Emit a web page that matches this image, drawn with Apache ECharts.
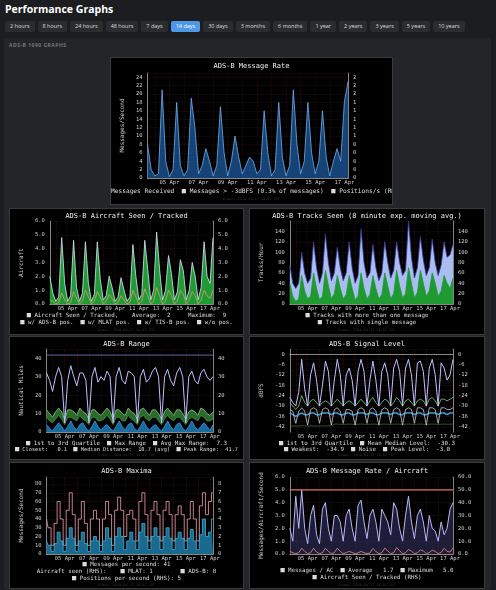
<!DOCTYPE html>
<html><head><meta charset="utf-8">
<script src="https://cdn.jsdelivr.net/npm/echarts@6/dist/echarts.min.js"></script>
<style>
body{margin:0;background:#1b1d20;width:496px;height:590px;overflow:hidden;font-family:"Open Sans",sans-serif;position:relative}
h1{position:absolute;left:5px;top:2px;margin:0;color:#fff;font-size:10.5px;font-weight:700}
#btns{position:absolute;left:5px;top:21px;display:flex;gap:3px}
#btns div{background:#2a2c30;color:#ddd;font-size:5.5px;padding:0 5px;height:11px;line-height:11px;border-radius:2px}
#btns div.on{background:#4f97e8;color:#fff}
#panel{position:absolute;left:4px;top:38px;width:487px;height:552px;background:#232528;border-radius:3px}
#hdr{position:absolute;left:9px;top:42px;color:#777;font-size:5px;font-weight:700;letter-spacing:.5px}
.box{position:absolute;background:#000;border:1px solid #3a3a3a}
</style></head><body>
<h1>Performance Graphs</h1>
<div id="btns"></div>
<div id="panel"></div><div id="hdr">ADS-B 1090 GRAPHS</div>
<div class="box" id="c0" style="left:110px;top:57px;width:281px;height:146px"></div>
<div class="box" id="c1" style="left:9px;top:208px;width:233px;height:125px"></div>
<div class="box" id="c2" style="left:249px;top:208px;width:234px;height:125px"></div>
<div class="box" id="c3" style="left:9px;top:336px;width:233px;height:122px"></div>
<div class="box" id="c4" style="left:249px;top:336px;width:234px;height:122px"></div>
<div class="box" id="c5" style="left:9px;top:462px;width:233px;height:125px"></div>
<div class="box" id="c6" style="left:249px;top:462px;width:234px;height:125px"></div>
<script>
const buttons=["2 hours","8 hours","24 hours","48 hours","7 days","14 days","30 days","3 months","6 months","1 year","2 years","3 years","5 years","10 years"];
// 6-hourly samples starting 03 Apr 12:00; label every 2 days from 05 Apr 00:00 (sample index 6)
const dateLabels=["05 Apr","07 Apr","09 Apr","11 Apr","13 Apr","15 Apr","17 Apr"];
const FIRST_LABEL=6, LABEL_EVERY=8, N=56;
// ADS-B message rate
const msgRate=[8,2,0.5,1, 21,4,0.3,2, 18,3,0.5,2, 19,12,1,3, 7,4,0.5,3, 17,6,0.5,4, 10,5,1,3, 5,4,1,2, 16,6,0.5,2, 18,5,0.5,3, 21,8,1,4, 18,6,1,4, 16,5,0.5,4, 7,4,18,23];
// Aircraft seen / tracked
const acSeen=[2,0.8,0.2,0.5, 4.8,1.5,0.2,0.6, 4.6,1.2,0.2,0.8, 4.5,1.5,0.2,0.7, 4.5,1.8,0.3,0.6, 2.0,1.2,0.2,0.5, 1.9,1.0,0.2,0.5, 4.3,2.0,0.3,0.7, 4.6,2.5,0.3,1.0, 5.2,2.5,0.3,1.0, 3.5,2.2,0.3,0.9, 3.2,2.4,0.3,1.0, 3.0,2.0,0.3,1.2, 4.5,2.0,1.5,4.8];
const acTisb=[0.3,0.2,0,0.1, 0.8,0.3,0,0.1, 0.9,0.4,0,0.2, 1.0,0.5,0,0.2, 0.9,0.5,0,0.2, 0.7,0.4,0,0.1, 0.6,0.3,0,0.1, 1.0,0.5,0,0.2, 1.1,0.6,0,0.2, 1.2,0.6,0,0.2, 1.0,0.6,0,0.2, 1.0,0.7,0,0.3, 0.9,0.6,0,0.3, 1.0,0.6,0.4,1.0];
// Tracks seen
const tracksAll=[75,40,30,40, 100,60,40,50, 120,70,40,60, 135,80,45,60, 110,70,45,60, 120,70,40,55, 145,80,50,60, 115,70,45,60, 120,80,50,65, 120,80,55,65, 160,90,50,70, 130,85,55,70, 125,80,55,75, 120,90,95,115];
const tracksMulti=[40,15,5,10, 55,25,10,15, 60,30,8,15, 65,35,10,20, 55,30,10,18, 55,30,8,15, 60,30,10,18, 55,30,10,18, 60,35,10,20, 65,35,12,20, 70,40,12,22, 65,40,15,25, 60,40,15,25, 55,40,30,50];
// Range
const rangeMax=[32,28,22,30, 35,30,5,28, 36,30,25,32, 32,28,5,30, 35,27,30,28, 33,30,5,30, 35,28,26,33, 32,30,5,30, 34,27,29,33, 35,30,5,30, 34,28,25,32, 35,30,5,30, 33,28,26,32, 34,30,28,30];
const rangeQ3=[12,10,8,11, 13,11,7,12, 12,11,9,13, 11,10,7,12, 12,10,9,11, 13,11,7,12, 12,10,9,13, 11,10,7,12, 13,11,9,12, 12,10,7,11, 13,11,9,12, 12,10,7,11, 12,11,9,13, 12,10,9,11];
const rangeQ1=[8,6,5,7, 9,7,4,8, 8,7,6,9, 7,6,4,8, 8,6,6,7, 9,7,4,8, 8,6,6,9, 7,6,4,8, 9,7,6,8, 8,6,4,7, 9,7,6,8, 8,6,4,7, 8,7,6,9, 8,6,6,7];
const rangeMin=[4,2,0.5,3, 5,3,0.5,3, 6,3,1,4, 5,2,0.5,3, 6,3,1,3, 4,2,0.5,3, 6,3,1,4, 5,2,0.5,3, 6,3,1,3, 4,2,0.5,3, 6,3,1,4, 5,2,0.5,3, 6,3,1,3, 5,3,1,4];
const rangePeak=41.7;
// Signal level
const sigPeak=[-25,-28,-30,-22, -3,-20,-30,-12, -5,-15,-30,-18, -4,-10,-30,-15, -3,-12,-30,-12, -8,-15,-30,-10, -3,-10,-30,-15, -4,-15,-30,-10, -5,-12,-30,-8, -3,-10,-30,-8, -3,-12,-30,-5, -4,-10,-30,-8, -3,-12,-30,-5, -8,-15,-12,-3];
const sigQ3=[-28,-30,-32,-30, -24,-28,-30,-27, -26,-28,-30,-28, -27,-28,-30,-28, -26,-28,-30,-28, -27,-28,-30,-28, -26,-28,-30,-27, -25,-28,-30,-28, -26,-27,-30,-28, -25,-27,-30,-27, -26,-28,-30,-27, -26,-27,-30,-26, -25,-27,-30,-26, -26,-27,-26,-25];
const sigMedian=[-32,-33,-40,-33, -31,-33,-41,-32, -31,-32,-40,-32, -31,-32,-41,-32, -31,-33,-40,-32, -32,-33,-41,-32, -31,-32,-40,-32, -31,-33,-41,-32, -31,-32,-40,-32, -31,-32,-41,-32, -31,-32,-40,-31, -31,-32,-41,-31, -31,-32,-40,-31, -31,-32,-32,-31];
const sigWeak=[-34,-35,-36,-35, -34,-35,-35,-34, -34,-35,-35,-34, -34,-34,-35,-34, -34,-35,-35,-34, -34,-35,-35,-34, -34,-34,-35,-34, -34,-35,-35,-34, -34,-34,-35,-34, -34,-35,-35,-34, -34,-34,-35,-34, -34,-35,-35,-34, -34,-34,-35,-34, -34,-35,-34,-34];
const sigNoise=[-41.5,-41.5,-41.6,-41.5, -41.4,-41.5,-41.6,-41.5, -41.5,-41.5,-41.6,-41.5, -41.5,-41.4,-41.5,-40.5, -40.4,-40.5,-40.6,-40.5, -40.4,-40.5,-40.6,-40.5, -40.4,-40.5,-40.6,-40.5, -40.4,-40.5,-40.6,-40.5, -40.4,-40.5,-40.6,-40.5, -40.4,-40.5,-40.6,-40.5, -40.4,-40.5,-40.6,-40.5, -40.4,-40.5,-40.6,-40.5, -40.4,-40.5,-40.6,-40.5, -40.4,-40.5,-40.5,-40.4];
// Maxima
const maxMsgs=[40,30,10,35, 60,40,10,50, 70,45,10,40, 60,35,10,40, 50,40,10,40, 60,45,10,50, 65,50,20,45, 50,40,15,60, 70,45,15,50, 60,45,15,50, 60,45,15,45, 55,45,15,40, 60,40,15,55, 70,45,60,70];
const maxPos=[15,10,3,12, 25,15,3,18, 30,18,3,15, 25,12,3,15, 20,15,3,15, 30,18,3,20, 30,20,5,15, 25,15,5,25, 35,20,5,20, 30,20,5,20, 30,18,5,18, 25,18,5,18, 28,15,5,22, 40,20,25,40];
// Message rate per aircraft
const perAc=[2,1,4.5,2, 5,2,0.8,3, 3.8,1.5,0.8,3.5, 4,2,1,3, 3,2.5,1,3, 3.5,2,1,3.8, 4.2,2.5,1.2,3, 3.5,2.5,1,3.5, 3,2.5,1.5,4, 3.5,2,1,3, 4.5,2.5,1.2,3, 3.5,2.5,1,3, 2,1.8,1,2.5, 1.5,2,3.5,4];
const perAcSeen=[2,1,0.3,1, 4.5,2,0.3,1, 4.5,1.5,0.3,1, 4.5,2,0.3,1, 4.5,2,0.3,1, 2,1.2,0.3,0.8, 2,1,0.3,0.8, 4.3,2,0.3,1, 4.6,2.5,0.3,1, 5,2.5,0.3,1, 3.5,2.2,0.3,1, 3.2,2.4,0.3,1, 3,2,0.3,1.2, 4.5,2,1.5,4.8];
const perAcMax=5.0;

btns.innerHTML=buttons.map(b=>`<div class="${b==='14 days'?'on':''}">${b}</div>`).join('');
const isLab=i=>{const k=i-FIRST_LABEL;return k>=0&&k%LABEL_EVERY===0;};
const cats=[];for(let i=0;i<N;i++){cats.push(isLab(i)?dateLabels[(i-FIRST_LABEL)/LABEL_EVERY]:'');}
const MONO='DejaVu Sans Mono';
const GRIDC='#3b1515';
const mkX=()=>({type:'category',data:cats,boundaryGap:false,
 axisLine:{lineStyle:{color:'#ddd',width:0.6}},axisTick:{show:false},
 axisLabel:{interval:(i)=>isLab(i),color:'#ccc',fontSize:5.5,fontFamily:MONO,margin:2},
 splitLine:{show:true,interval:(i)=>(i-FIRST_LABEL)%4===0,lineStyle:{color:GRIDC,width:0.6,type:[1,1]}}});
function yAx(o,right){return {type:'value',min:o.min,max:o.max,interval:o.interval,position:right?'right':'left',
 name:right?'':o.name,nameLocation:'middle',nameGap:o.gap||20,nameTextStyle:{color:'#ccc',fontSize:6,fontFamily:MONO},
 axisLine:{show:true,lineStyle:{color:'#ddd',width:0.6}},axisTick:{show:false},
 axisLabel:{color:'#ccc',fontSize:5.5,fontFamily:MONO,margin:5,formatter:o.fmt,customValues:o.custom},
 splitLine:{show:!right,lineStyle:{color:GRIDC,width:0.6,type:[1,1]}}};}
const COL={g:'#2fb34a',w:'#ffffff',lb:'#b8c4f5',o:'#d9a066',p:'#f0b0c0',b:'#3a9ad9',gr:'#aaaaaa',dg:'#6a9a6a',lp:'#c8c8ff',r:'#f08080'};
function legend(lines){const rich={};Object.keys(COL).forEach(k=>rich[k]={color:COL[k],fontSize:7,fontFamily:MONO});
 return lines.map(l=>({type:'text',left:l.x!=null?l.x:'center',top:l.y,style:{text:l.t,fill:'#ddd',fontSize:l.fs||5.8,fontFamily:MONO,rich:rich}}));}
function make(id,o){const c=echarts.init(document.getElementById(id),null,{renderer:'canvas'});
 const g=[{type:'text',left:'center',top:o.titleY,style:{text:o.title,fill:'#eee',fontSize:7,fontFamily:MONO}},
  {type:'text',left:'center',top:o.drawnY,style:{text:'Drawn: 2024-04-17 14:02 CDT',fill:'#333',fontSize:3.5,fontFamily:MONO}}].concat(legend(o.legend));
 c.setOption({animation:false,backgroundColor:'#000',grid:o.grid,xAxis:mkX(),yAxis:[yAx(o.yl,false),yAx(o.yr||o.yl,true)],series:o.series,graphic:g});}
const L=(name,data,color,extra)=>Object.assign({type:'line',name,data:data,showSymbol:false,lineStyle:{color,width:0.8},itemStyle:{color}},extra||{});
const flat=(v)=>cats.map(()=>v);

make('c0',{title:'ADS-B Message Rate',titleY:5,drawnY:139,grid:{left:33,right:44,top:15,bottom:26},
 yl:{min:0,max:25,interval:2,name:'Messages/Second',gap:22,fmt:v=>v>24?'':v},yr:{min:0,max:2.5,interval:0.2,fmt:v=>v>2.4?'':Math.floor(v)},
 legend:[{x:0,y:130,fs:6.2,t:'Messages Received  {p|■} Messages > -3dBFS (0.3% of messages)  {b|■} Positions/s (RH'}],
 series:[L('msg',msgRate,'#6fb0f0',{areaStyle:{color:'#1e5fa8'}})]});
make('c1',{title:'ADS-B Aircraft Seen / Tracked',titleY:4,drawnY:119,grid:{left:29,right:30,top:12,bottom:30},
 yl:{min:0,max:6,interval:1,name:'Aircraft',fmt:v=>v.toFixed(1)},
 legend:[{y:103,t:'{g|■} Aircraft Seen / Tracked,    Average:  2     Maximum:  9'},{y:110,t:'{lb|■} w/ ADS-B pos.  {w|■} w/ MLAT pos.  {o|■} w/ TIS-B pos.  {p|■} w/o pos.'}],
 series:[L('seen',acSeen,'#d8e8ff',{areaStyle:{color:'#1f9a35',opacity:1}}),L('tisb',acTisb,'#d9a066')]});
make('c2',{title:'ADS-B Tracks Seen (8 minute exp. moving avg.)',titleY:4,drawnY:119,grid:{left:29,right:31,top:12,bottom:30},
 yl:{min:0,max:160,interval:20,name:'Tracks/Hour',fmt:v=>v>=160?'':v},
 legend:[{y:103,t:'{g|■} Tracks with more than one message'},{y:110,t:'{w|■} Tracks with single message'}],
 series:[L('all',tracksAll,'#3a3aa0',{areaStyle:{color:'#a9bdf0',opacity:1}}),L('multi',tracksMulti,'#1e9a30',{areaStyle:{color:'#1e9a30',opacity:1}})]});
make('c3',{title:'ADS-B Range',titleY:4,drawnY:116,grid:{left:29,right:30,top:12,bottom:27},
 yl:{min:0,max:45,interval:10,name:'Nautical Miles',fmt:v=>v>40?'':v},
 legend:[{y:103,t:'{g|■} 1st to 3rd Quartile  {w|■} Max Range  {gr|■} Avg Max Range:  7.3'},{y:109,fs:5.3,t:'{b|■} Closest:   0.1  {gr|■} Median Distance:  10.7 (avg)  {w|■} Peak Range:  41.7'}],
 series:[L('q3',rangeQ3,'#7fd07f',{areaStyle:{color:'#2a6a2a',opacity:1}}),L('q1',rangeQ1,'#4a8a4a',{areaStyle:{color:'#000',opacity:1}}),
  L('min',rangeMin,'#3a9ad9',{areaStyle:{color:'#1a6aa0',opacity:1}}),L('max',rangeMax,'#c0c0ff',{lineStyle:{color:'#c0c0ff',width:1}}),
  L('peak',flat(rangePeak),'#8080d0')]});
make('c4',{title:'ADS-B Signal Level',titleY:4,drawnY:116,grid:{left:29,right:31,top:12,bottom:27},
 yl:{min:-45,max:3,interval:3,name:'dBFS',custom:[0,-6,-12,-18,-24,-30,-36,-42]},
 legend:[{y:103,t:'{g|■} 1st to 3rd Quartile  {gr|■} Mean Median Level:  -30.3'},{y:109,t:'{b|■} Weakest:  -34.9  {dg|■} Noise  {w|■} Peak Level:  -3.0'}],
 series:[L('noise',sigNoise,'#3a6a3a'),L('weak',sigWeak,'#3a9ad9',{lineStyle:{color:'#3a9ad9',width:1.5}}),L('q3',sigQ3,'#7fd07f'),L('med',sigMedian,'#cccccc'),L('peak',sigPeak,'#c0c0ff',{lineStyle:{color:'#c0c0ff',width:1}})]});
make('c5',{title:'ADS-B Maxima',titleY:5,drawnY:120,grid:{left:29,right:30,top:14,bottom:34},
 yl:{min:0,max:88,interval:10,name:'Messages/Second',fmt:v=>v>80?'':v},yr:{min:0,max:8.8,interval:1,fmt:v=>v>8?'':v},
 legend:[{y:98,t:'{g|■} Messages per second: 41'},{y:105,t:'Aircraft seen (RHS):    {w|■} MLAT: 1        {gr|■} ADS-B: 8'},{y:112,t:'{b|■} Positions per second (RHS): 5'}],
 series:[L('msgs',maxMsgs,'#f0a0a8',{step:'middle'}),L('pos',maxPos,'#40b0d0',{step:'middle',areaStyle:{color:'#1a6a90',opacity:1}})]});
make('c6',{title:'ADS-B Message Rate / Aircraft',titleY:5,drawnY:120,grid:{left:29,right:31,top:14,bottom:34},
 yl:{min:0,max:6,interval:1,name:'Messages/Aircraft/Second',gap:22,fmt:v=>v.toFixed(1)},yr:{min:0,max:60,interval:10,fmt:v=>v.toFixed(1)},
 legend:[{y:104,t:'{w|■} Messages / AC  {gr|■} Average   1.7  {p|■} Maximum   5.0'},{y:111,t:'{w|■} Aircraft Seen / Tracked (RHS)'}],
 series:[L('perac',perAc,'#b8b8f8',{lineStyle:{color:'#b8b8f8',width:1},areaStyle:{color:'#303060',opacity:0.6}}),L('seen',perAcSeen,'#f09070',{yAxisIndex:1}),
  L('max',flat(perAcMax),'#e07070',{lineStyle:{color:'#e07070',width:1.2}})]});
</script></body></html>
